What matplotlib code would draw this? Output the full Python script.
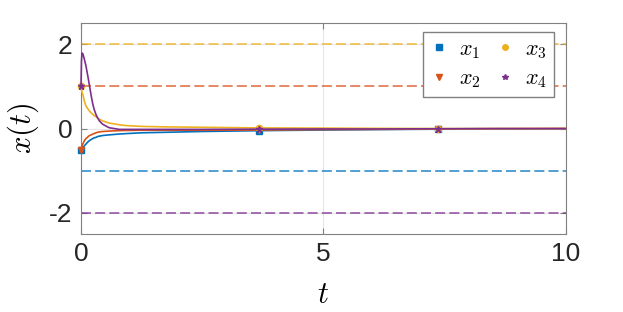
import matplotlib.pyplot as plt

plt.rcParams['mathtext.fontset'] = 'cm'
plt.rcParams['font.family'] = ['Liberation Sans', 'DejaVu Sans']

# temps et trajectoires
t = [0, 0.01, 0.02, 0.04, 0.07, 0.1, 0.14, 0.17, 0.21, 0.24, 0.27, 0.31, 0.34, 0.38,
     0.45, 0.58, 0.79, 0.93, 1.27, 1.7, 2.5, 3.68, 5.0, 6.0, 7.36, 8.5, 10]
x1 = [-0.5, -0.48, -0.46, -0.44, -0.41, -0.37, -0.32, -0.29, -0.26, -0.24, -0.22, -0.21,
      -0.19, -0.18, -0.165, -0.15, -0.13, -0.12, -0.1, -0.09, -0.07, -0.05, -0.035,
      -0.025, -0.015, -0.01, -0.005]
x2 = [-0.5, -0.45, -0.41, -0.36, -0.29, -0.24, -0.2, -0.17, -0.15, -0.135, -0.12, -0.1,
      -0.09, -0.08, -0.07, -0.06, -0.05, -0.045, -0.04, -0.04, -0.04, -0.035, -0.025,
      -0.02, -0.01, -0.005, 0]
x3 = [1.0, 0.93, 0.87, 0.8, 0.65, 0.54, 0.47, 0.42, 0.37, 0.34, 0.31, 0.28, 0.25, 0.22,
      0.18, 0.13, 0.09, 0.07, 0.05, 0.04, 0.03, 0.015, 0.01, 0.005, 0, 0, 0]
x4 = [1.0, 1.6, 1.79, 1.77, 1.64, 1.5, 1.25, 1.05, 0.78, 0.6, 0.46, 0.33, 0.26, 0.18,
      0.1, 0.02, -0.02, -0.02, -0.02, -0.02, -0.02, -0.015, -0.01, -0.01, -0.005, 0, 0]
marker_t = [0, 3.68, 7.36]

# bornes (lignes pointillées)
bounds = [-1, 1, 2, -2]

series = [x1, x2, x3, x4]
labels = ['$x_1$', '$x_2$', '$x_3$', '$x_4$']
colors = ['#0072BD', '#D95319', '#EDB120', '#7E2F8E']
markers = ['s', 'v', 'o', '*']
idx = [t.index(m) for m in marker_t]

fig = plt.figure(figsize=(6.23, 3.12), dpi=100)
ax = fig.add_axes([0.13, 0.25, 0.778, 0.676])

for b, c in zip(bounds, colors):
    ax.axhline(b, color=c, ls='--', lw=1.2, alpha=0.8, dashes=(6, 2.5))

handles = []
for y, lab, c, m in zip(series, labels, colors, markers):
    ax.plot(t, y, color=c, lw=1.2, marker=m, markersize=4.5, markevery=idx,
            clip_on=False, zorder=3)
    h, = ax.plot([], [], color=c, ls='none', marker=m, markersize=4, label=lab)
    handles.append(h)

ax.set_xlim(0, 10)
ax.set_ylim(-2.5, 2.5)
ax.set_xticks([0, 5, 10])
ax.set_yticks([-2, 0, 2])
ax.set_yticklabels(['-2', '0', '2'])
ax.grid(True, color='#e6e6e6', lw=0.8)
ax.set_axisbelow(True)
ax.tick_params(direction='in', colors='#262626', labelsize=19, length=4,
               top=True, right=True, pad=6)
for s in ax.spines.values():
    s.set_color('#808080')
ax.tick_params(color='#808080')

ax.set_xlabel('$t$', fontsize=22, labelpad=10)
ax.set_ylabel('$x(t)$', fontsize=22, labelpad=6)

ax.legend(handles=handles, ncol=2,
          loc='upper right', bbox_to_anchor=(0.975, 0.957), fontsize=16,
          fancybox=False, edgecolor='#808080', framealpha=1,
          handlelength=0.8, columnspacing=0.7, borderpad=0.3, labelspacing=0.35,
          handletextpad=0.5, borderaxespad=0)

fig.savefig('out.png', dpi=100)
